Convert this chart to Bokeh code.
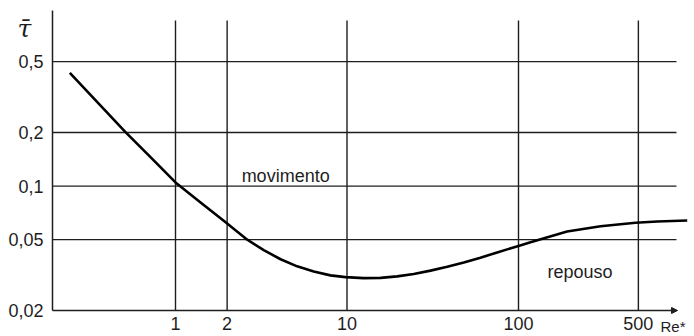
from bokeh.plotting import figure
from bokeh.models import Range1d, FixedTicker, Label, Arrow, NormalHead, CustomJSTickFormatter
from bokeh.core.properties import value
from bokeh.embed import file_html
from bokeh.resources import INLINE

# Data (critical shear stress vs. particle Reynolds number)
re_vals = [0.242, 0.350, 0.511, 0.715, 1.0, 1.40, 1.96, 2.62, 3.27, 4.10, 5.12, 6.40, 8.01, 9.80,
           12.5, 15.7, 19.6, 24.5, 30.7, 38.4, 48.0, 60.0, 75.1, 100, 117.5, 192, 301, 481, 644, 963]
tau_vals = [0.432, 0.296, 0.201, 0.1454, 0.1048, 0.0809, 0.0627, 0.050, 0.0437, 0.0388, 0.0354,
            0.0331, 0.0315, 0.0308, 0.0304, 0.0305, 0.0311, 0.0321, 0.0335, 0.0352, 0.0372,
            0.0396, 0.0424, 0.0461, 0.0483, 0.0555, 0.0595, 0.0622, 0.0633, 0.0641]

x_ticks = [1, 2, 10, 100, 500]
y_ticks = [0.02, 0.05, 0.1, 0.2, 0.5]

# view extents (whole canvas is the frame; axes are pinned inside it)
X_LO, X_HI = 0.09541, 1062.3
Y_LO, Y_HI = 0.014286, 1.1030
X_AXIS_AT = 0.1919   # where the vertical axis sits
Y_TOP = 0.969        # top of the vertical axis
GRID_TOP = 0.851     # top of the vertical grid lines
GRID_RIGHT = 834     # end of the horizontal grid lines
ARROW_END = 846

INK = "#1e1e1e"
FONT = "Liberation Sans"

p = figure(width=694, height=336, x_axis_type="log", y_axis_type="log",
           x_range=Range1d(X_LO, X_HI), y_range=Range1d(Y_LO, Y_HI),
           output_backend="svg", toolbar_location=None,
           min_border_left=0, min_border_right=0, min_border_top=0, min_border_bottom=0)
p.outline_line_color = None
p.grid.visible = False
p.background_fill_color = "white"

fmt = CustomJSTickFormatter(code="return tick.toString().replace('.', ',');")
for ax in (p.xaxis[0], p.yaxis[0]):
    ax.major_tick_line_color = None
    ax.minor_tick_line_color = None
    ax.major_tick_out = 0
    ax.major_tick_in = 0
    ax.minor_tick_out = 0
    ax.major_label_text_font = FONT
    ax.major_label_text_font_size = "18px"
    ax.major_label_text_color = INK
    ax.formatter = fmt
p.xaxis.ticker = FixedTicker(ticks=x_ticks)
p.yaxis.ticker = FixedTicker(ticks=y_ticks)
p.xaxis.fixed_location = y_ticks[0]
p.yaxis.fixed_location = X_AXIS_AT
p.xaxis.axis_line_color = None
p.xaxis.major_label_standoff = 7
p.yaxis.axis_line_color = INK
p.yaxis.axis_line_width = 1.5
p.yaxis.bounds = (y_ticks[0], Y_TOP)
p.yaxis.major_label_standoff = 9

# vertical grid lines
p.segment(x0=x_ticks, y0=[y_ticks[0]] * len(x_ticks), x1=x_ticks, y1=[GRID_TOP] * len(x_ticks),
          line_color=INK, line_width=1.4)
# horizontal grid lines
hy = y_ticks[1:]
p.segment(x0=[X_AXIS_AT] * len(hy), y0=hy, x1=[GRID_RIGHT] * len(hy), y1=hy,
          line_color=INK, line_width=1.4)

# x axis line with arrow
p.add_layout(Arrow(end=NormalHead(size=6, fill_color=INK, line_color=INK),
                   x_start=X_AXIS_AT, y_start=y_ticks[0], x_end=ARROW_END, y_end=y_ticks[0],
                   line_color=INK, line_width=1.6))

# curve
p.line(re_vals, tau_vals, line_color="black", line_width=2.6, line_join="round")

p.add_layout(Label(x=2.43, y=0.1133, text="movimento", text_font=FONT, text_font_size="18px",
                   text_color=INK, text_baseline="middle"))
p.add_layout(Label(x=147.6, y=0.0327, text="repouso", text_font=FONT, text_font_size="18px",
                   text_color=INK, text_baseline="middle"))
p.add_layout(Label(x=0.12, y=0.767, text="\u03c4\u0304", text_font="DejaVu Serif",
                   text_font_style="italic", text_font_size="25px",
                   text_color=INK, text_baseline="middle"))
p.text(x=[673], y=[0.0162], text=["Re*"], text_font=value(FONT), text_font_size="15px",
       text_color=INK, text_baseline="middle", text_align="left")

open("out.html", "w").write(file_html(p, INLINE))
